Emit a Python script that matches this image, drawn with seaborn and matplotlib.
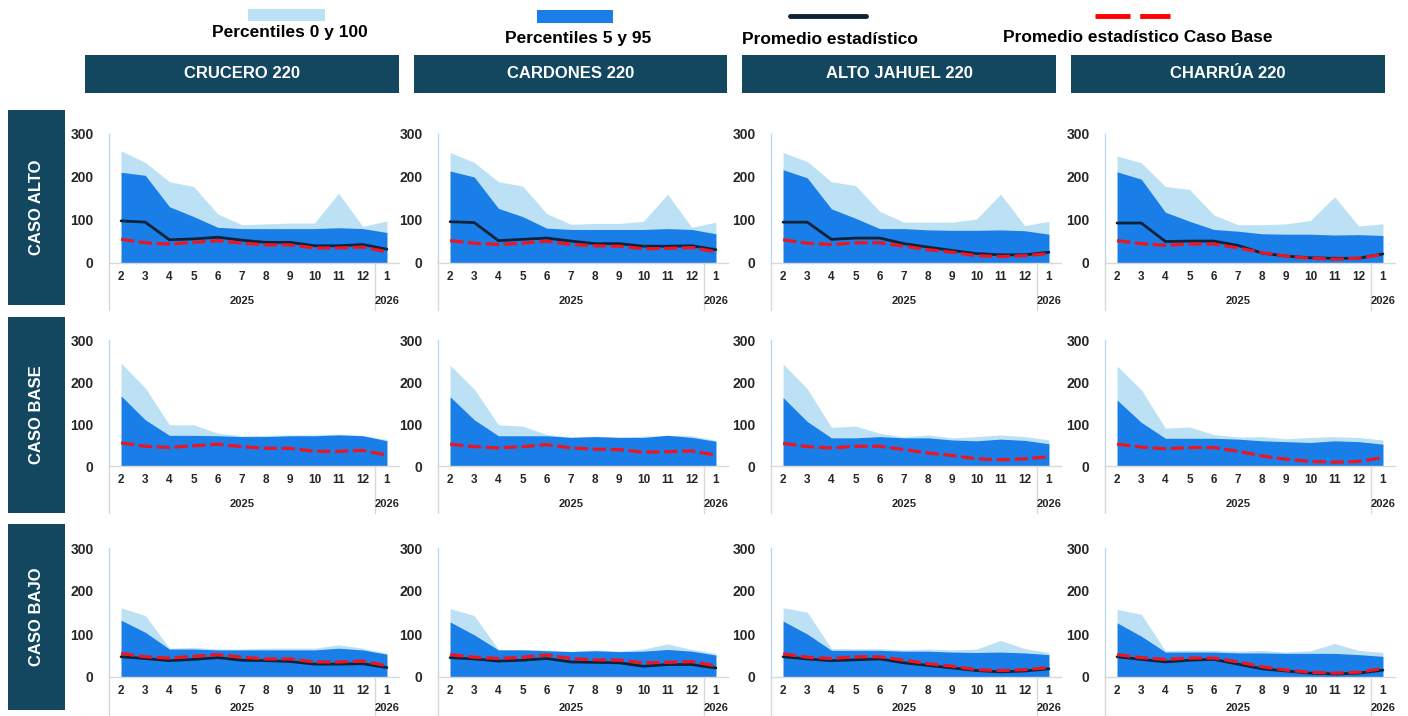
import numpy as np
import pandas as pd
import matplotlib.pyplot as plt
import seaborn as sns
from matplotlib.patches import Rectangle
from matplotlib.lines import Line2D

# ---- datos ----
months = ['2', '3', '4', '5', '6', '7', '8', '9', '10', '11', '12', '1']
stations = ['CRUCERO 220', 'CARDONES 220', 'ALTO JAHUEL 220', 'CHARRÚA 220']
cases = ['CASO ALTO', 'CASO BASE', 'CASO BAJO']

# promedio estadistico del caso base (linea roja, igual en las tres filas)
mean_caso_base = {
    'CRUCERO 220':     [55, 47, 44, 48, 52, 46, 42, 42, 35, 35, 37, 26],
    'CARDONES 220':    [52, 46, 43, 46, 51, 43, 40, 39, 33, 34, 36, 26],
    'ALTO JAHUEL 220': [54, 46, 43, 47, 47, 39, 31, 25, 17, 15, 17, 22],
    'CHARRÚA 220':     [52, 45, 41, 44, 44, 35, 24, 16, 11, 9, 11, 20],
}

# caso alto
p100_alto = {
    'CRUCERO 220':     [261, 234, 189, 178, 114, 89, 91, 93, 93, 162, 85, 98],
    'CARDONES 220':    [257, 234, 189, 179, 115, 90, 92, 92, 97, 160, 83, 95],
    'ALTO JAHUEL 220': [257, 236, 189, 180, 120, 95, 95, 95, 102, 160, 87, 97],
    'CHARRÚA 220':     [249, 233, 178, 171, 112, 89, 89, 91, 99, 154, 86, 91],
}
p95_alto = {
    'CRUCERO 220':     [211, 204, 131, 108, 83, 80, 80, 80, 80, 82, 80, 71],
    'CARDONES 220':    [214, 200, 127, 108, 81, 78, 78, 78, 78, 80, 78, 68],
    'ALTO JAHUEL 220': [217, 198, 126, 104, 80, 80, 77, 76, 76, 77, 75, 67],
    'CHARRÚA 220':     [212, 195, 118, 97, 78, 74, 68, 67, 67, 65, 66, 64],
}
mean_alto = {
    'CRUCERO 220':     [98, 95, 54, 56, 60, 53, 48, 48, 40, 40, 43, 32],
    'CARDONES 220':    [96, 94, 52, 55, 58, 51, 45, 45, 39, 39, 40, 31],
    'ALTO JAHUEL 220': [95, 95, 55, 58, 58, 45, 37, 29, 22, 19, 19, 25],
    'CHARRÚA 220':     [93, 93, 50, 51, 51, 41, 23, 16, 12, 11, 11, 21],
}

# caso base
p100_base = {
    'CRUCERO 220':     [245, 186, 98, 98, 78, 72, 73, 74, 74, 76, 73, 63],
    'CARDONES 220':    [240, 183, 98, 95, 75, 69, 71, 69, 71, 73, 72, 61],
    'ALTO JAHUEL 220': [243, 184, 92, 95, 78, 69, 74, 67, 70, 74, 70, 62],
    'CHARRÚA 220':     [238, 182, 90, 93, 75, 69, 70, 65, 68, 70, 68, 62],
}
p95_base = {
    'CRUCERO 220':     [167, 110, 73, 73, 72, 70, 70, 72, 72, 74, 72, 60],
    'CARDONES 220':    [165, 110, 72, 72, 72, 68, 70, 68, 68, 73, 68, 59],
    'ALTO JAHUEL 220': [163, 106, 67, 67, 70, 67, 67, 62, 60, 64, 61, 53],
    'CHARRÚA 220':     [157, 104, 66, 66, 66, 64, 60, 58, 56, 60, 58, 52],
}

# caso bajo
p100_bajo = {
    'CRUCERO 220':     [161, 143, 67, 69, 65, 65, 67, 67, 67, 75, 67, 55],
    'CARDONES 220':    [159, 143, 64, 64, 63, 60, 63, 60, 65, 77, 64, 55],
    'ALTO JAHUEL 220': [161, 151, 66, 66, 66, 63, 65, 63, 65, 85, 66, 57],
    'CHARRÚA 220':     [157, 146, 61, 62, 62, 60, 62, 58, 61, 78, 62, 57],
}
p95_bajo = {
    'CRUCERO 220':     [132, 104, 65, 65, 63, 63, 63, 63, 63, 67, 63, 53],
    'CARDONES 220':    [128, 98, 63, 63, 61, 59, 61, 59, 60, 64, 60, 51],
    'ALTO JAHUEL 220': [130, 100, 62, 62, 62, 60, 60, 58, 57, 58, 56, 52],
    'CHARRÚA 220':     [126, 95, 58, 58, 58, 56, 56, 55, 55, 55, 52, 48],
}
mean_bajo = {
    'CRUCERO 220':     [47, 43, 38, 41, 45, 39, 38, 36, 30, 30, 31, 22],
    'CARDONES 220':    [45, 42, 37, 39, 43, 35, 34, 33, 25, 29, 29, 21],
    'ALTO JAHUEL 220': [47, 42, 38, 40, 42, 33, 27, 21, 15, 12, 14, 19],
    'CHARRÚA 220':     [47, 41, 35, 39, 41, 30, 19, 14, 9, 7, 9, 16],
}

p100 = {'CASO ALTO': p100_alto, 'CASO BASE': p100_base, 'CASO BAJO': p100_bajo}
p95 = {'CASO ALTO': p95_alto, 'CASO BASE': p95_base, 'CASO BAJO': p95_bajo}
mean = {'CASO ALTO': mean_alto, 'CASO BASE': None, 'CASO BAJO': mean_bajo}

# ---- estilo ----
sns.set_theme(style='white')
plt.rcParams['font.family'] = ['Liberation Sans', 'DejaVu Sans']

LIGHT = '#BDE1F4'
DARK = '#1A7EE8'
NAVY = '#0D2236'
RED = '#EE1420'
HEAD = '#13465F'
GRID = '#D9D9D9'

W, H = 1408, 716
fig = plt.figure(figsize=(W / 100, H / 100), dpi=100)


def fx(px):
    return px / W


def fy(py):
    return 1 - py / H


def box(x0, y0, x1, y1, color):
    fig.add_artist(Rectangle((fx(x0), fy(y1)), fx(x1) - fx(x0), (y1 - y0) / H,
                             transform=fig.transFigure, color=color, lw=0))


# leyenda
box(248, 9, 325, 21, LIGHT)
box(537, 10, 613, 23, DARK)
fig.add_artist(Line2D([fx(790), fx(866)], [fy(16), fy(16)], color=NAVY, lw=3.5,
                      transform=fig.transFigure))
fig.add_artist(Line2D([fx(1095), fx(1170)], [fy(16), fy(16)], color='#FF0000', lw=3.5,
                      dashes=(7.2, 2.0), transform=fig.transFigure))
leg_txt = [('Percentiles 0 y 100', 290, 33), ('Percentiles 5 y 95', 578, 38),
           ('Promedio estadístico', 830, 39), ('Promedio estadístico Caso Base', 1138, 37)]
for t, x, y in leg_txt:
    fig.text(fx(x), fy(y), t, ha='center', va='center', fontsize=12.5,
             fontweight='bold', color='black')

# cabeceras de columna
col_box = [(85, 399), (414, 727), (742, 1056), (1071, 1385)]
for st, (x0, x1) in zip(stations, col_box):
    box(x0, 55, x1, 93, HEAD)
    fig.text(fx((x0 + x1) / 2), fy(74), st, ha='center', va='center', color='white',
             fontsize=12, fontweight='bold')

# cabeceras de fila
row_box = [(110, 305), (317, 513), (524, 710)]
for cs, (y0, y1) in zip(cases, row_box):
    box(8, y0, 65, y1, HEAD)
    fig.text(fx(36.5), fy((y0 + y1) / 2), cs, ha='center', va='center', color='white',
             fontsize=12, fontweight='bold', rotation=90)

# paneles
ax_left = [109, 438, 771, 1105]
ax_w = 290
row_top = [134, 340, 548]
row_bot = [263, 466, 677]
year_off = [38, 38, 31]
x = np.arange(len(months))

for r, cs in enumerate(cases):
    h = row_bot[r] - row_top[r]
    for c, st in enumerate(stations):
        ax = fig.add_axes([fx(ax_left[c]), fy(row_bot[r]), ax_w / W, h / H])
        ax.fill_between(x, 0, p100[cs][st], color=LIGHT, lw=0)
        ax.fill_between(x, 0, p95[cs][st], color=DARK, lw=0)
        if mean[cs] is not None:
            sns.lineplot(x=x, y=mean[cs][st], ax=ax, color=NAVY, lw=2.0)
        sns.lineplot(x=x, y=mean_caso_base[st], ax=ax, color=RED, lw=2.3)
        ax.lines[-1].set_dashes((4.2, 1.4))

        ax.set_xlim(-0.5, 11.5)
        ax.set_ylim(0, 300)
        ax.set_yticks([0, 100, 200, 300])
        ax.set_xticks(x)
        ax.set_xticklabels(months)
        ax.tick_params(axis='y', length=0, pad=11, labelsize=10, labelcolor='#262626')
        ax.tick_params(axis='x', length=0, pad=6, labelsize=8.5, labelcolor='#262626')
        for lab in ax.get_xticklabels() + ax.get_yticklabels():
            lab.set_fontweight('bold')
        ax.set_xlabel('')
        ax.set_ylabel('')
        for s in ['top', 'right']:
            ax.spines[s].set_visible(False)
        ax.spines['left'].set_color('#BDD7EE')
        ax.spines['left'].set_linewidth(1.0)
        ax.spines['bottom'].set_color(GRID)
        ax.spines['bottom'].set_linewidth(1.0)
        ax.patch.set_alpha(0)

        tr = ax.get_xaxis_transform()
        ax.plot([-0.5, -0.5], [0, -47 / h], transform=tr, clip_on=False, color=GRID, lw=1.0)
        ax.plot([10.5, 10.5], [0, -47 / h], transform=tr, clip_on=False, color=GRID, lw=1.0)
        yo = -year_off[r] / h
        ax.text(5, yo, '2025', transform=tr, ha='center', va='center', fontsize=8,
                fontweight='bold', color='#262626')
        ax.text(11, yo, '2026', transform=tr, ha='center', va='center', fontsize=8,
                fontweight='bold', color='#262626')

fig.savefig('out.png', dpi=100)
